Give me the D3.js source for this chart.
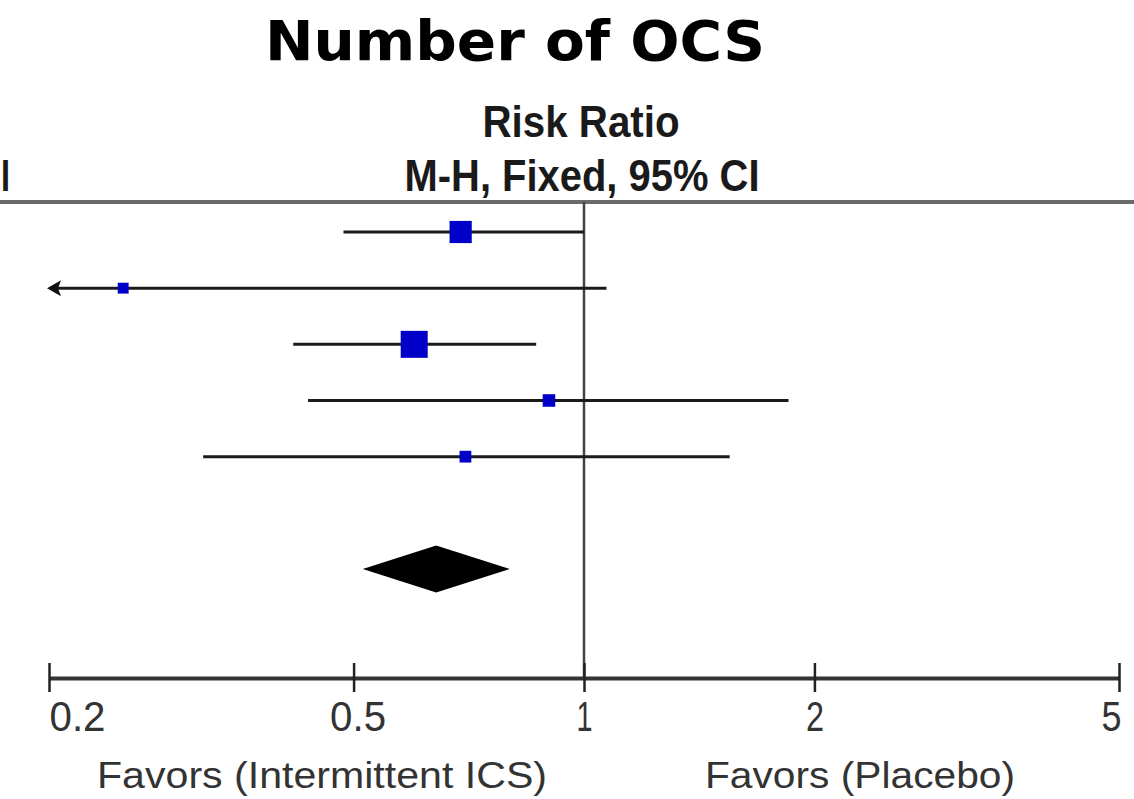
<!DOCTYPE html>
<html>
<head>
<meta charset="utf-8">
<script src="https://cdn.jsdelivr.net/npm/d3@7"></script>
<style>
  body { margin: 0; background: #fff; }
</style>
</head>
<body>
<script>
// study rows (no labels visible in the crop)
const studies = ["s1", "s2", "s3", "s4", "s5"]
const riskRatio = [0.69, 0.25, 0.60, 0.90, 0.70]
const ciLower = [0.485, 0.05, 0.417, 0.436, 0.318]
const ciUpper = [1.00, 1.07, 0.866, 1.85, 1.55]
const weights = [25, 6, 37, 8, 7]
// pooled estimate: lower, point, upper
const pooled = [0.514, 0.641, 0.80]
const tickValues = [0.2, 0.5, 1, 2, 5]
const tickLabels = ["0.2", "0.5", "1", "2", "5"]

const width = 1134, height = 799
const narrow = "'Liberation Sans Narrow', 'Arial Narrow', 'Liberation Sans', sans-serif"

const x = d3.scaleLog()
  .domain([0.2, 5])
  .range([49, 1119])

// rows 0..4 are studies, row 6 is the pooled diamond
const y = d3.scalePoint()
  .domain(d3.range(7))
  .range([232, 569])

const size = d3.scaleSqrt()
  .domain([0, 37])
  .range([0, 27])

const svg = d3.select("body").append("svg")
  .attr("width", width)
  .attr("height", height)

// helper: text squeezed/stretched to the width seen in the picture
function label(txt, px, py, fs, w, opts = {}) {
  return svg.append("text")
    .attr("x", px)
    .attr("y", py)
    .attr("font-family", opts.family || narrow)
    .attr("font-size", fs)
    .attr("font-weight", opts.weight || "normal")
    .attr("fill", opts.fill || "#222")
    .attr("text-anchor", opts.anchor || "middle")
    .attr("textLength", w)
    .attr("lengthAdjust", "spacingAndGlyphs")
    .text(txt)
}

// titles
label("Number of OCS", 515, 60, 56, 500, {family: "'DejaVu Sans', Verdana, sans-serif", weight: "bold", fill: "#000"})
label("Risk Ratio", 581, 137, 44, 197, {weight: "bold", fill: "#1a1a1a"})
label("M-H, Fixed, 95% CI", 582, 191, 44, 355, {weight: "bold", fill: "#1a1a1a"})
// tail of the neighbouring column header, only its last letter shows
label("I", 1, 191, 44, 9, {weight: "bold", fill: "#1a1a1a", anchor: "start"})

// header rule
svg.append("line")
  .attr("x1", 0).attr("x2", width)
  .attr("y1", 202).attr("y2", 202)
  .attr("stroke", "#6a6a6a")
  .attr("stroke-width", 4)

// line of no effect
svg.append("line")
  .attr("x1", x(1)).attr("x2", x(1))
  .attr("y1", 202).attr("y2", 678)
  .attr("stroke", "#444")
  .attr("stroke-width", 2.5)

// bottom axis
const axisY = 678
const tickWidths = [56, 56, 16, 18, 20]
const axis = svg.append("g")
  .attr("transform", `translate(0,${axisY})`)
  .call(d3.axisBottom(x)
    .tickValues(tickValues)
    .tickFormat((d, i) => tickLabels[i])
    .tickSizeOuter(0))

axis.select(".domain")
  .attr("stroke", "#333")
  .attr("stroke-width", 4)

axis.selectAll(".tick line")
  .attr("y1", -15)
  .attr("y2", 14)
  .attr("stroke", "#222")
  .attr("stroke-width", 2.5)

axis.selectAll(".tick text")
  .attr("y", 53)
  .attr("dy", null)
  .attr("font-family", narrow)
  .attr("font-size", 42)
  .attr("fill", "#333")
  .attr("textLength", (d, i) => tickWidths[i])
  .attr("lengthAdjust", "spacingAndGlyphs")
  .attr("text-anchor", (d, i) => i === 0 ? "start" : (i === tickValues.length - 1 ? "end" : "middle"))
  .attr("dx", (d, i) => i === tickValues.length - 1 ? 2 : (i === 1 ? 4 : 0))

label("Favors (Intermittent ICS)", 322, 788, 36, 450, {fill: "#333"})
label("Favors (Placebo)", 860, 788, 36, 310, {fill: "#333"})

// confidence intervals
const rows = svg.append("g")
  .selectAll("g")
  .data(studies)
  .join("g")

rows.append("line")
  .attr("x1", (d, i) => x(Math.max(ciLower[i], 0.2)) + (ciLower[i] < 0.2 ? 4 : 0))
  .attr("x2", (d, i) => x(ciUpper[i]))
  .attr("y1", (d, i) => y(i))
  .attr("y2", (d, i) => y(i))
  .attr("stroke", "#1a1a1a")
  .attr("stroke-width", 3)

// arrow when the interval runs off the scale
rows.filter((d, i) => ciLower[i] < 0.2)
  .append("path")
  .attr("d", (d) => {
    const i = studies.indexOf(d)
    const tip = x(0.2) - 2, cy = y(i)
    return `M${tip},${cy} L${tip + 14},${cy - 8} L${tip + 11},${cy} L${tip + 14},${cy + 8} Z`
  })
  .attr("fill", "#111")

rows.append("rect")
  .attr("x", (d, i) => x(riskRatio[i]) - size(weights[i]) / 2)
  .attr("y", (d, i) => y(i) - size(weights[i]) / 2)
  .attr("width", (d, i) => size(weights[i]))
  .attr("height", (d, i) => size(weights[i]))
  .attr("fill", "#0000c8")

// pooled diamond
const dy = y(6), half = 23.5
svg.append("path")
  .attr("d", `M${x(pooled[0])},${dy} L${x(pooled[1])},${dy - half} L${x(pooled[2])},${dy} L${x(pooled[1])},${dy + half} Z`)
  .attr("fill", "#000")
</script>
</body>
</html>
